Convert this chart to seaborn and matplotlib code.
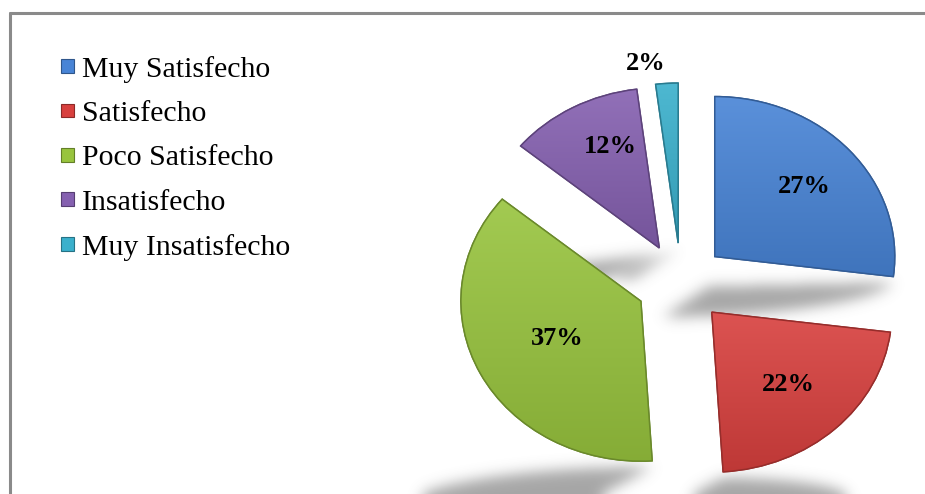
import numpy as np
import matplotlib
matplotlib.use("Agg")
import matplotlib.pyplot as plt
import matplotlib.patches as mpatches
from matplotlib.lines import Line2D
from matplotlib.path import Path
from matplotlib.colors import to_rgb
import seaborn as sns

# ---- data -------------------------------------------------------------
categories = ["Muy Satisfecho", "Satisfecho", "Poco Satisfecho",
              "Insatisfecho", "Muy Insatisfecho"]
percentages = [27, 22, 37, 12, 2]
pct_labels = ["27%", "22%", "37%", "12%", "2%"]

# ---- style ------------------------------------------------------------
slice_hex = ["#4884d6", "#d8403e", "#98c43e", "#8560b0", "#3ab0cc"]
label_radius = [0.66, 0.62, 0.52, 0.69, 1.14]
label_turn = [0, 0, 0, -5.5, 5.6]   # degrees, nudges the label off the mid-angle
explode = [0.25] * len(percentages)

W, H, DPI = 925, 494, 100
sns.set_theme(style="white")
plt.rcParams["font.family"] = ["Liberation Serif", "DejaVu Serif"]
plt.rcParams["text.color"] = "black"
palette = sns.color_palette(slice_hex)


def shade(c, f):
    r, g, b = to_rgb(c)
    if f >= 0:
        return (r + (1 - r) * f, g + (1 - g) * f, b + (1 - b) * f)
    return (r * (1 + f), g * (1 + f), b * (1 + f))


fig = plt.figure(figsize=(W / DPI, H / DPI), dpi=DPI)
fig.patch.set_facecolor("white")

# pie centre and radii in pixels (wide ellipse)
cx, cy = 681, 283
rx, ry = 180, 160

ax = fig.add_axes([0, 0, 1, 1])
wedges, _ = ax.pie(percentages, colors=palette, startangle=90,
                   counterclock=False, explode=explode, radius=1,
                   wedgeprops=dict(linewidth=1.0))
ax.set_aspect("auto")
xlim = (-cx / rx, (W - cx) / rx)
ylim = ((cy - H) / ry, cy / ry)
ax.set_xlim(*xlim)
ax.set_ylim(*ylim)
ax.axis("off")


def to_px(x, y):
    return cx + np.asarray(x) * rx, cy - np.asarray(y) * ry


def wedge_outline(w, n=80):
    t = np.radians(np.linspace(w.theta1, w.theta2, n))
    x0, y0 = w.center
    xs = np.concatenate([[x0], x0 + w.r * np.cos(t), [x0]])
    ys = np.concatenate([[y0], y0 + w.r * np.sin(t), [y0]])
    return xs, ys


# ---- soft floor shadows (squashed, skewed reflections) ---------------
cols, rows = np.meshgrid(np.arange(W) + 0.5, np.arange(H) + 0.5)
pts = np.column_stack([cols.ravel(), rows.ravel()])
mask = np.zeros(H * W)
squash, skew, gap = 0.19, 1.5, 6
for w in wedges:
    xs, ys = wedge_outline(w)
    pc, pr = to_px(xs, ys)
    base = pr.max()
    sr = base + gap + (base - pr) * squash
    sc = pc - (base - pr) * squash * skew
    m = Path(np.column_stack([sc, sr])).contains_points(pts)
    mask = np.maximum(mask, m.astype(float))
mask = mask.reshape(H, W)
sig = 7
k = np.exp(-0.5 * (np.arange(-3 * sig, 3 * sig + 1) / sig) ** 2)
k /= k.sum()
pad = 3 * sig
padded = np.pad(mask, pad, mode="edge")
blur = np.apply_along_axis(lambda v: np.convolve(v, k, mode="same"), 1, padded)
blur = np.apply_along_axis(lambda v: np.convolve(v, k, mode="same"), 0, blur)
blur = blur[pad:-pad, pad:-pad]
shadow = np.zeros((H, W, 4))
shadow[..., :3] = 0.42
shadow[..., 3] = blur * 0.6
ax.imshow(shadow, extent=(*xlim, *ylim), origin="upper", aspect="auto",
          zorder=0.5, interpolation="bilinear")

# ---- slice shading ---------------------------------------------------
for w, c in zip(wedges, slice_hex):
    w.set_edgecolor(shade(c, -0.3))
    w.set_zorder(2)
    xs, ys = wedge_outline(w)
    x0, x1, y0, y1 = xs.min(), xs.max(), ys.min(), ys.max()
    grad = np.linspace(0, 1, 64)[:, None]
    top, bot = np.array(shade(c, 0.10)), np.array(shade(c, -0.12))
    img = top[None, None, :] * (1 - grad[..., None]) + bot[None, None, :] * grad[..., None]
    img = np.repeat(img, 4, axis=1)
    im = ax.imshow(img, extent=(x0, x1, y0, y1), origin="upper",
                   aspect="auto", zorder=2.1, interpolation="bilinear")
    im.set_clip_path(w)
    rim = mpatches.Wedge(w.center, w.r, w.theta1, w.theta2, facecolor="none",
                         edgecolor=shade(c, -0.3), linewidth=1.1, zorder=2.2)
    ax.add_patch(rim)

# ---- percentage labels -----------------------------------------------
for w, txt, rl, turn in zip(wedges, pct_labels, label_radius, label_turn):
    mid = np.radians((w.theta1 + w.theta2) / 2 + turn)
    x0, y0 = w.center
    ax.text(x0 + rl * np.cos(mid), y0 + rl * np.sin(mid), txt,
            ha="center", va="center", fontsize=19, fontweight="bold",
            color="black", zorder=5)

# ---- legend ----------------------------------------------------------
handles = [mpatches.Patch(facecolor=c, edgecolor=shade(c, -0.35), linewidth=0.8)
           for c in slice_hex]
fig.legend(handles, categories, loc="upper left",
           bbox_to_anchor=(61 / W, 1 - 56 / H), bbox_transform=fig.transFigure,
           frameon=False, fontsize=21.5, handlelength=0.42, handleheight=0.34,
           handletextpad=0.28, labelspacing=0.61, borderpad=0, borderaxespad=0,
           labelcolor="black")

# ---- chart frame -----------------------------------------------------
frame_kw = dict(color="#8a8a8a", linewidth=2.2, transform=fig.transFigure)
fig.add_artist(Line2D([10 / W, 1], [1 - 13 / H, 1 - 13 / H], **frame_kw))
fig.add_artist(Line2D([10 / W, 10 / W], [0, 1 - 13 / H], **frame_kw))

fig.savefig("out.png", dpi=DPI, facecolor="white")
